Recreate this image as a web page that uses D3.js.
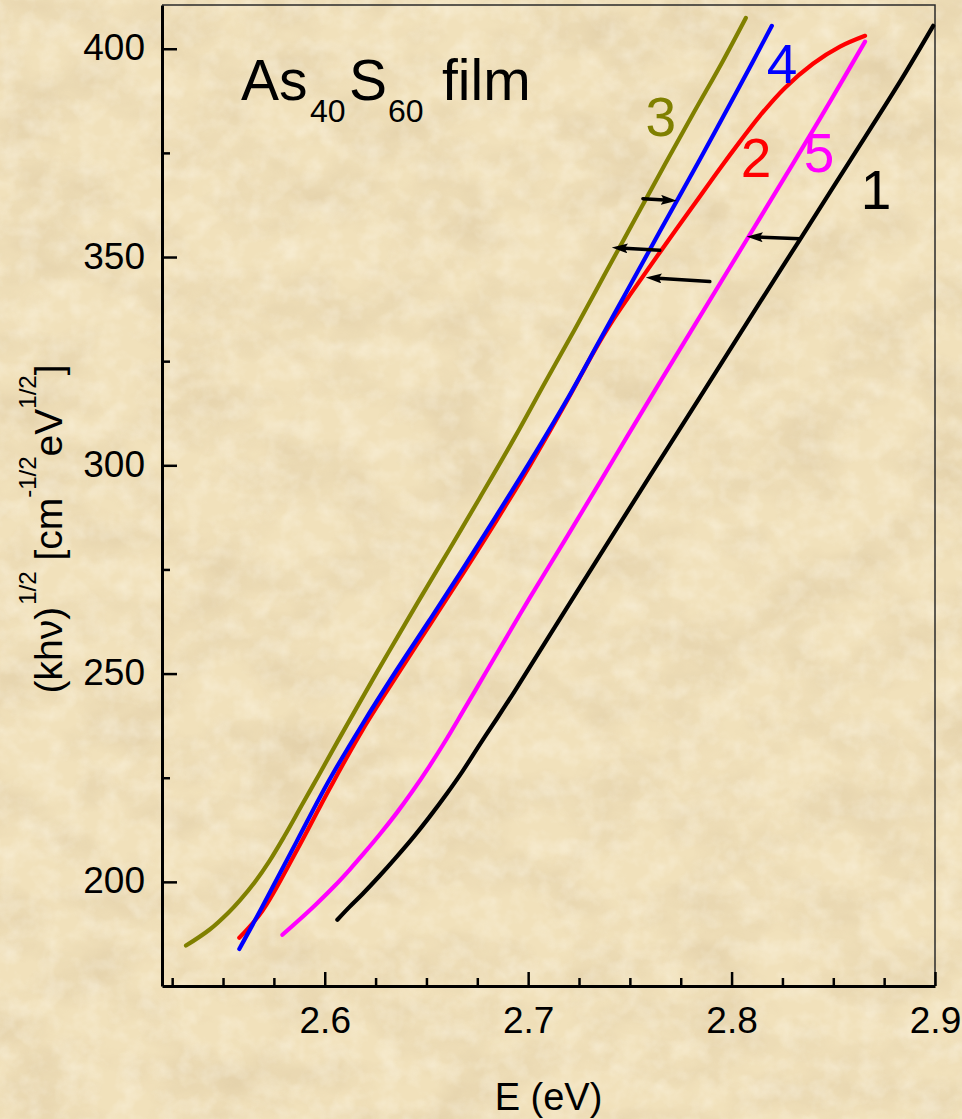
<!DOCTYPE html>
<html><head><meta charset="utf-8">
<script src="https://cdn.jsdelivr.net/npm/d3@7"></script>
<style>html,body{margin:0;padding:0;background:#f3e5c2;} svg{display:block;}</style>
</head><body>
<svg id="chart" width="962" height="1119"></svg>
<script>
// ---- data ----
const curve1E = [2.6062, 2.6122, 2.6186, 2.6269, 2.6353, 2.6437, 2.6515, 2.6599, 2.6678, 2.6761, 2.6845, 2.6934, 2.7057, 2.7337, 2.7598, 2.7844, 2.8139, 2.8336, 2.8582, 2.8828, 2.8991];
const curve1Y = [190.9, 194.0, 197.1, 201.4, 206.0, 210.8, 215.6, 221.1, 226.6, 232.9, 239.1, 245.8, 255.4, 277.2, 297.4, 316.3, 339.1, 354.2, 373.1, 392.1, 405.5];
const curve2E = [2.5580, 2.5693, 2.5861, 2.6023, 2.6186, 2.6353, 2.6515, 2.6678, 2.6845, 2.7007, 2.7189, 2.7327, 2.7416, 2.7509, 2.7647, 2.7829, 2.7942, 2.8041, 2.8139, 2.8262, 2.8400, 2.8533, 2.8656];
const curve2Y = [186.6, 193.0, 207.4, 222.3, 236.5, 249.4, 261.6, 273.9, 286.8, 299.8, 315.3, 327.6, 334.8, 341.5, 351.1, 363.5, 371.2, 377.7, 383.9, 390.6, 396.4, 400.5, 403.1];
const curve3E = [2.5318, 2.5433, 2.5526, 2.5585, 2.5654, 2.5728, 2.5802, 2.5885, 2.5974, 2.6062, 2.6156, 2.6254, 2.6358, 2.6461, 2.6614, 2.6761, 2.6934, 2.7081, 2.7229, 2.7376, 2.7524, 2.7672, 2.7819, 2.7952, 2.8070];
const curve3Y = [184.7, 188.5, 192.6, 195.7, 199.8, 205.0, 211.0, 218.2, 225.9, 233.6, 241.7, 250.1, 258.8, 267.4, 279.9, 292.1, 306.7, 319.7, 332.6, 345.8, 359.0, 372.2, 385.1, 396.6, 407.4];
const curve4E = [2.5580, 2.5693, 2.5861, 2.6023, 2.6186, 2.6353, 2.6515, 2.6678, 2.6845, 2.7007, 2.7189, 2.7352, 2.7490, 2.7647, 2.7844, 2.8041, 2.8198];
const curve4Y = [183.9, 194.0, 209.6, 224.5, 237.9, 250.8, 262.8, 275.1, 288.0, 300.7, 315.6, 330.0, 342.2, 356.1, 373.4, 391.1, 405.5];
const curve5E = [2.5792, 2.5875, 2.5959, 2.6048, 2.6122, 2.6195, 2.6269, 2.6353, 2.6432, 2.6515, 2.6599, 2.6678, 2.6761, 2.6845, 2.7007, 2.7189, 2.7352, 2.7490, 2.7647, 2.7829, 2.8075, 2.8302, 2.8484, 2.8656];
const curve5Y = [187.3, 190.9, 194.7, 199.0, 202.9, 207.0, 211.3, 216.5, 221.8, 227.8, 234.3, 240.8, 247.7, 254.7, 268.1, 282.7, 295.9, 307.2, 319.9, 334.5, 354.2, 372.4, 387.3, 401.7];

const seriesNames = ["1", "2", "3", "4", "5"];
// curve label anchor positions (data coords)
const labelE = [2.8710, 2.8120, 2.7652, 2.8248, 2.8430];
const labelY = [361.6, 369.1, 379.1, 391.8, 370.3];

// arrows (data coords)
const arrowFromE = [2.7564, 2.7647, 2.7893, 2.8336];
const arrowFromY = [364.0, 351.6, 344.1, 354.4];
const arrowToE   = [2.7731, 2.7411, 2.7578, 2.8075];
const arrowToY   = [363.5, 352.3, 345.1, 354.9];

const xMajorTicks = [2.6, 2.7, 2.8, 2.9];
const xTickLabels = ["2.6", "2.7", "2.8", "2.9"];
const xMinorTicks = [2.525, 2.55, 2.575, 2.625, 2.65, 2.675, 2.725, 2.75, 2.775, 2.825, 2.85, 2.875];
const yMajorTicks = [200, 250, 300, 350, 400];
const yTickLabels = ["200", "250", "300", "350", "400"];
const yMinorTicks = [225, 275, 325, 375];

// ---- styles ----
const seriesColors = ["#000000", "#ff0000", "#808000", "#0000ff", "#ff00ff"];
const FONT = "'Liberation Sans', Arial, Helvetica, sans-serif";

const W = 962, H = 1119;
const plotL = 162, plotR = 935, plotT = 5, plotB = 986;

const svg = d3.select("#chart");
const defs = svg.append("defs");

// paper texture
const f = defs.append("filter").attr("id", "paper").attr("x", 0).attr("y", 0).attr("width", "100%").attr("height", "100%");
f.append("feTurbulence").attr("type", "fractalNoise").attr("baseFrequency", "0.012 0.018").attr("numOctaves", 4).attr("seed", 7).attr("result", "n");
f.append("feColorMatrix").attr("in", "n").attr("type", "matrix")
  .attr("values", "0 0 0 0 0.62  0 0 0 0 0.48  0 0 0 0 0.28  1.6 0 0 0 -0.62");
const f2 = defs.append("filter").attr("id", "paper2").attr("x", 0).attr("y", 0).attr("width", "100%").attr("height", "100%");
f2.append("feTurbulence").attr("type", "fractalNoise").attr("baseFrequency", "0.05").attr("numOctaves", 3).attr("seed", 3).attr("result", "n");
f2.append("feColorMatrix").attr("in", "n").attr("type", "matrix")
  .attr("values", "0 0 0 0 1  0 0 0 0 0.97  0 0 0 0 0.88  0 1.4 0 0 -0.55");

svg.append("rect").attr("width", W).attr("height", H).attr("fill", "#f1e1bb");
svg.append("rect").attr("width", W).attr("height", H).attr("filter", "url(#paper)").attr("opacity", 0.45);
svg.append("rect").attr("width", W).attr("height", H).attr("filter", "url(#paper2)").attr("opacity", 0.5);

// arrow marker
defs.append("marker").attr("id", "ah").attr("markerUnits", "userSpaceOnUse")
  .attr("viewBox", "0 0 16 10").attr("markerWidth", 16).attr("markerHeight", 10)
  .attr("refX", 16).attr("refY", 5).attr("orient", "auto")
  .append("path").attr("d", "M0,0 L16,5 L0,10 L3,5 Z").attr("fill", "#000");

const x = d3.scaleLinear().domain([2.52, 2.9]).range([plotL, plotR]);
const y = d3.scaleLinear().domain([175, 410.5]).range([plotB, plotT]);

// frame top/right (thin)
svg.append("path")
  .attr("d", `M${x(2.52)},${y(410.5)}H${x(2.9)}V${y(175)}`)
  .attr("fill", "none").attr("stroke", "#2a2a2a").attr("stroke-width", 1.5);

// x axis
const gx = svg.append("g").attr("transform", `translate(0,${plotB})`)
  .call(d3.axisBottom(x).tickValues(xMajorTicks).tickFormat((d, i) => xTickLabels[i]).tickSize(-14).tickSizeOuter(0));
gx.select(".domain").attr("stroke-width", 3);
gx.selectAll(".tick line").attr("stroke-width", 2.5);
gx.selectAll(".tick text").attr("y", 47).attr("dy", null)
  .attr("font-size", 37).attr("font-family", FONT).attr("fill", "#000");
const gxm = svg.append("g").attr("transform", `translate(0,${plotB})`)
  .call(d3.axisBottom(x).tickValues(xMinorTicks).tickFormat("").tickSize(-8).tickSizeOuter(0));
gxm.select(".domain").remove();
gxm.selectAll(".tick line").attr("stroke-width", 2.5);

// y axis
const gy = svg.append("g").attr("transform", `translate(${plotL},0)`)
  .call(d3.axisLeft(y).tickValues(yMajorTicks).tickFormat((d, i) => yTickLabels[i]).tickSize(-15).tickSizeOuter(0));
gy.select(".domain").attr("stroke-width", 3);
gy.selectAll(".tick line").attr("stroke-width", 2.5);
gy.selectAll(".tick text").attr("x", -17).attr("dy", null).attr("y", 11)
  .attr("font-size", 37).attr("font-family", FONT).attr("fill", "#000");
const gym = svg.append("g").attr("transform", `translate(${plotL},0)`)
  .call(d3.axisLeft(y).tickValues(yMinorTicks).tickFormat("").tickSize(-8).tickSizeOuter(0));
gym.select(".domain").remove();
gym.selectAll(".tick line").attr("stroke-width", 2.5);

// curves
const curvesE = [curve1E, curve2E, curve3E, curve4E, curve5E];
const curvesY = [curve1Y, curve2Y, curve3Y, curve4Y, curve5Y];
const line = d3.line().x(d => x(d[0])).y(d => y(d[1])).curve(d3.curveCatmullRom.alpha(0.5));
// draw order: 1,5,3,2,4 (blue above red)
[0, 4, 2, 1, 3].forEach(i => {
  const pts = curvesE[i].map((e, j) => [e, curvesY[i][j]]);
  svg.append("path").datum(pts).attr("d", line)
    .attr("fill", "none").attr("stroke", seriesColors[i]).attr("stroke-width", 4.2)
    .attr("stroke-linecap", "round").attr("stroke-linejoin", "round");
});

// arrows
arrowFromE.forEach((e, i) => {
  const x1 = x(e), y1 = y(arrowFromY[i]), x2 = x(arrowToE[i]), y2 = y(arrowToY[i]);
  const len = Math.hypot(x2 - x1, y2 - y1);
  const ux = (x2 - x1) / len, uy = (y2 - y1) / len;
  svg.append("line").attr("x1", x1).attr("y1", y1).attr("x2", x2 - ux * 8).attr("y2", y2 - uy * 8)
    .attr("stroke", "#000").attr("stroke-width", 3.5).attr("stroke-linecap", "round");
  svg.append("line").attr("x1", x2 - ux * 10).attr("y1", y2 - uy * 10).attr("x2", x2).attr("y2", y2)
    .attr("stroke", "none").attr("marker-end", "url(#ah)");
});

// curve labels
seriesNames.forEach((n, i) => {
  svg.append("text").attr("x", x(labelE[i])).attr("y", y(labelY[i]))
    .attr("text-anchor", "middle").attr("font-family", FONT).attr("font-size", 55)
    .attr("fill", seriesColors[i]).text(n);
});

// title
const t = svg.append("text").attr("y", 100).attr("font-family", FONT).attr("font-size", 57).attr("fill", "#000");
t.append("tspan").attr("x", 241).text("As");
t.append("tspan").attr("x", 310).attr("font-size", 32).attr("dy", 22).text("40");
t.append("tspan").attr("x", 349).attr("dy", -22).text("S");
t.append("tspan").attr("x", 388).attr("font-size", 32).attr("dy", 22).text("60");
t.append("tspan").attr("x", 442).attr("dy", -22).text("film");

// x axis title
svg.append("text").attr("x", (plotL + plotR) / 2).attr("y", 1110).attr("text-anchor", "middle")
  .attr("font-family", FONT).attr("font-size", 38).attr("fill", "#000").text("E (eV)");

// y axis title
const yt = svg.append("text").attr("transform", "translate(62,529) rotate(-90)")
  .attr("text-anchor", "middle").attr("font-family", FONT).attr("font-size", 39).attr("fill", "#000");
yt.append("tspan").text("(kh\u03bd)");
yt.append("tspan").attr("font-size", 24).attr("dy", -26).attr("dx", 2).text("1/2");
yt.append("tspan").attr("dy", 26).text(" [cm");
yt.append("tspan").attr("font-size", 24).attr("dy", -26).text("-1/2");
yt.append("tspan").attr("dy", 26).text("eV");
yt.append("tspan").attr("font-size", 24).attr("dy", -26).text("1/2");
yt.append("tspan").attr("dy", 26).text("]");
</script>
</body></html>
